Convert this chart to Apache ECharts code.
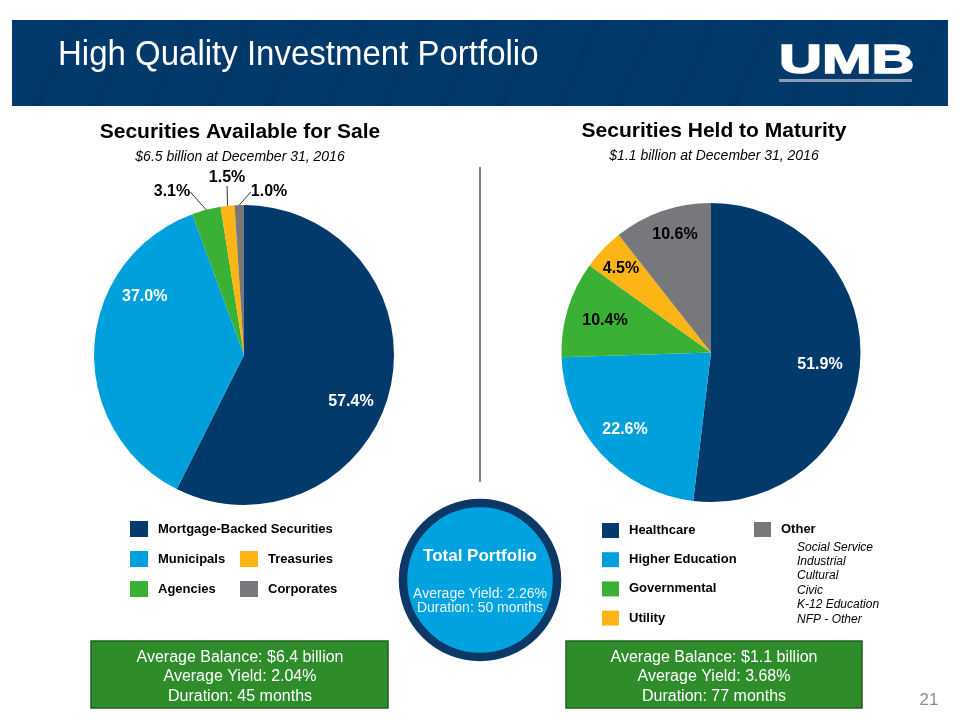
<!DOCTYPE html>
<html>
<head>
<meta charset="utf-8">
<script src="https://cdn.jsdelivr.net/npm/echarts@6/dist/echarts.min.js"></script>
<style>
html,body{margin:0;padding:0;background:#fff;}
#c{width:960px;height:720px;}
</style>
</head>
<body>
<div id="c"></div>
<script>
// ---------- DATA ----------
const pageTitle = 'High Quality Investment Portfolio';
const afsTitle = 'Securities Available for Sale';
const afsSubtitle = '$6.5 billion at December 31, 2016';
const afsCategories = ['Mortgage-Backed Securities', 'Municipals', 'Agencies', 'Treasuries', 'Corporates'];
const afsValues = [57.4, 37.0, 3.1, 1.5, 1.0];
const htmTitle = 'Securities Held to Maturity';
const htmSubtitle = '$1.1 billion at December 31, 2016';
const htmCategories = ['Healthcare', 'Higher Education', 'Governmental', 'Utility', 'Other'];
const htmValues = [51.9, 22.6, 10.4, 4.5, 10.6];
const otherSubItems = ['Social Service', 'Industrial', 'Cultural', 'Civic', 'K-12 Education', 'NFP - Other'];
const afsBoxLines = ['Average Balance: $6.4 billion', 'Average Yield: 2.04%', 'Duration: 45 months'];
const htmBoxLines = ['Average Balance: $1.1 billion', 'Average Yield: 3.68%', 'Duration: 77 months'];
const totalTitle = 'Total Portfolio';
const totalLines = ['Average Yield: 2.26%', 'Duration: 50 months'];
const pageNumber = '21';

// ---------- STYLE / LAYOUT ----------
const FONT = '"Liberation Sans", Arial, Helvetica, sans-serif';
const NAVY = '#033a6c', LBLUE = '#00a0dc', GREEN = '#3ab034', YELLOW = '#fdb515', GRAY = '#77787b';
const afsColors = [NAVY, LBLUE, GREEN, YELLOW, GRAY];
const htmColors = [NAVY, LBLUE, GREEN, YELLOW, GRAY];
const L = {cx: 244, cy: 355, r: 150};
const R = {cx: 711, cy: 352.5, r: 149.5};
// label anchor offsets (fractions of radius) and label modes
const afsLabelPos = [[0.713, 0.311], [-0.662, -0.389], [-0.48, -1.087], [-0.113, -1.18], [0.167, -1.087]];
const afsLabelMode = ['inW', 'inW', 'out', 'out', 'out'];
const htmLabelPos = [[0.729, 0.084], [-0.575, 0.518], [-0.709, -0.211], [-0.602, -0.563], [-0.241, -0.786]];
const htmLabelMode = ['inW', 'inW', 'inB', 'inB', 'inB'];

function pieData(cats, vals, colors, modes) {
  return cats.map((n, i) => ({
    name: n, value: vals[i],
    itemStyle: {color: colors[i]},
    label: {
      position: modes[i] === 'out' ? 'outside' : 'inside',
      color: modes[i] === 'inW' ? '#ffffff' : '#000000'
    },
    labelLine: {show: modes[i] === 'out'}
  }));
}
function labelLayoutFor(geo, offs) {
  return function (p) {
    const o = offs[p.dataIndex];
    return {x: geo.cx + o[0] * geo.r, y: geo.cy + o[1] * geo.r, align: 'center', verticalAlign: 'middle'};
  };
}
function pieSeries(geo, cats, vals, colors, modes, offs) {
  return {
    type: 'pie', center: [geo.cx, geo.cy], radius: [0, geo.r],
    startAngle: 90, clockwise: true, avoidLabelOverlap: false,
    animation: false, silent: true,
    emphasis: {disabled: true},
    itemStyle: {borderWidth: 0},
    data: pieData(cats, vals, colors, modes),
    label: {
      show: true, fontFamily: FONT, fontSize: 16, fontWeight: 'bold',
      formatter: p => p.value.toFixed(1) + '%'
    },
    labelLine: {length: 10, length2: 0, smooth: false, lineStyle: {color: '#333', width: 1}},
    labelLayout: labelLayoutFor(geo, offs)
  };
}

// header stripes
const stripes = [];
for (let k = 0; k < 16; k++) {
  const x0 = 30 + k * 58;
  stripes.push({
    type: 'polygon', silent: true,
    shape: {points: [[x0, 106], [x0 + 14, 106], [Math.min(x0 + 14 + 40, 948), 20], [Math.min(x0 + 40, 948), 20]]},
    style: {fill: 'rgba(0,0,0,0.045)'}
  });
}

const graphics = [
  {type: 'rect', shape: {x: 12, y: 20, width: 936, height: 86}, style: {fill: NAVY}, silent: true, z: 0},
  ...stripes,
  {type: 'text', x: 58, y: 55, scaleY: 1.07, silent: true,
   style: {text: pageTitle, fill: '#fff', font: '33px ' + FONT, textVerticalAlign: 'middle'}},
  {type: 'text', x: 779, y: 62, scaleX: 1.45, silent: true,
   style: {text: 'UMB', fill: '#fff', font: 'bold 41px ' + FONT, textVerticalAlign: 'middle', stroke: '#fff', lineWidth: 1.5}},
  {type: 'rect', shape: {x: 779, y: 79, width: 133, height: 3}, style: {fill: '#8b9bb1'}, silent: true},

  {type: 'text', x: L.cx - 4, y: 132, silent: true,
   style: {text: afsTitle, fill: '#000', font: 'bold 21px ' + FONT, textAlign: 'center', textVerticalAlign: 'middle'}},
  {type: 'text', x: L.cx - 4, y: 157, silent: true,
   style: {text: afsSubtitle, fill: '#000', font: 'italic 14px ' + FONT, textAlign: 'center', textVerticalAlign: 'middle'}},
  {type: 'text', x: 714, y: 131, silent: true,
   style: {text: htmTitle, fill: '#000', font: 'bold 21px ' + FONT, textAlign: 'center', textVerticalAlign: 'middle'}},
  {type: 'text', x: 714, y: 156, silent: true,
   style: {text: htmSubtitle, fill: '#000', font: 'italic 14px ' + FONT, textAlign: 'center', textVerticalAlign: 'middle'}},

  {type: 'line', shape: {x1: 480, y1: 167, x2: 480, y2: 482}, style: {stroke: '#7f7f7f', lineWidth: 2}, silent: true},

  {type: 'text', x: 797, y: 540, silent: true,
   style: {text: otherSubItems.join('\n'), fill: '#000', font: 'italic 12px ' + FONT, lineHeight: 14.4, textVerticalAlign: 'top'}},

  {type: 'circle', shape: {cx: 480, cy: 580, r: 77}, style: {fill: '#00a2df', stroke: '#0c3868', lineWidth: 8.5}, silent: true},
  {type: 'text', x: 480, y: 556, silent: true,
   style: {text: totalTitle, fill: '#fff', font: 'bold 17px ' + FONT, textAlign: 'center', textVerticalAlign: 'middle'}},
  {type: 'text', x: 480, y: 601, silent: true,
   style: {text: totalLines.join('\n'), fill: '#eaf6fc', font: '14px ' + FONT, lineHeight: 14.5, textAlign: 'center', textVerticalAlign: 'middle'}},

  {type: 'rect', shape: {x: 91, y: 641, width: 297, height: 67}, style: {fill: '#2e8c2b', stroke: '#215f22', lineWidth: 1.5}, silent: true},
  {type: 'text', x: 240, y: 677, silent: true,
   style: {text: afsBoxLines.join('\n'), fill: '#fff', font: '16px ' + FONT, lineHeight: 19.5, textAlign: 'center', textVerticalAlign: 'middle'}},
  {type: 'rect', shape: {x: 566, y: 641, width: 296, height: 67}, style: {fill: '#2e8c2b', stroke: '#215f22', lineWidth: 1.5}, silent: true},
  {type: 'text', x: 714, y: 677, silent: true,
   style: {text: htmBoxLines.join('\n'), fill: '#fff', font: '16px ' + FONT, lineHeight: 19.5, textAlign: 'center', textVerticalAlign: 'middle'}},

  {type: 'text', x: 929, y: 700, silent: true,
   style: {text: pageNumber, fill: '#8c8c8c', font: '17px ' + FONT, textAlign: 'center', textVerticalAlign: 'middle'}}
];

const legendText = {fontFamily: FONT, fontSize: 13, fontWeight: 'bold', color: '#000', padding: [0, 0, 0, 5]};
function legend(names, left, top, iw, ih, gap) {
  return {
    data: names, orient: 'vertical', left: left, top: top, padding: 0,
    itemWidth: iw, itemHeight: ih, itemGap: gap, icon: 'rect', selectedMode: false,
    textStyle: Object.assign({lineHeight: ih}, legendText)
  };
}

const option = {
  backgroundColor: '#ffffff',
  animation: false,
  legend: [
    legend([afsCategories[0], afsCategories[1], afsCategories[2]], 130, 521, 18, 16, 14),
    legend([afsCategories[3], afsCategories[4]], 240, 551, 18, 16, 14),
    legend([htmCategories[0], htmCategories[1], htmCategories[2], htmCategories[3]], 602, 523, 17, 15, 14.2),
    legend([htmCategories[4]], 754, 522, 17, 15, 14)
  ],
  graphic: graphics,
  series: [
    pieSeries(L, afsCategories, afsValues, afsColors, afsLabelMode, afsLabelPos),
    pieSeries(R, htmCategories, htmValues, htmColors, htmLabelMode, htmLabelPos)
  ]
};

const chart = echarts.init(document.getElementById('c'), null, {renderer: 'canvas', width: 960, height: 720});
chart.setOption(option);
</script>
</body>
</html>
